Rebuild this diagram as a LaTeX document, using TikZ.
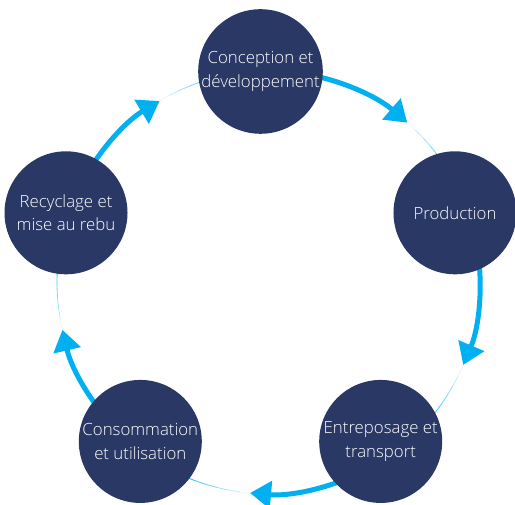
\documentclass[tikz,border=0pt]{standalone}
\usepackage{fontspec}
\setmainfont{Open Sans}[UprightFont=* Light]
\usetikzlibrary{arrows.meta}

\definecolor{navy}{RGB}{41,56,101}
\definecolor{sky}{RGB}{0,176,240}

\begin{document}
\begin{tikzpicture}[x=1pt,y=1pt]
   \tikzstyle{stage}=[circle, fill=navy, minimum size=123pt, inner sep=0pt, text=white, align=center, font=\fontsize{16.8}{23.5}\selectfont]
   \tikzstyle{flow}=[draw=sky, line width=5pt, -{Triangle[length=21pt,width=27pt]}]
   \useasboundingbox (0,0) rectangle (515,505);
   \coordinate (hub) at (260.5,229);
   \coordinate (ring) at (268.5,222.7);
   % faded thin ring from each arrow tip to the next stage
   \foreach \a in {49,-23,-95,-167,121} {
       \foreach \k/\o in {0/10,1/25,2/40,3/55,4/70,5/85} {
           \draw[sky!\o, line width=0.8pt] (ring) ++(\a-3*\k:211.5) arc[start angle=\a-3*\k, end angle=\a-3-3*\k, radius=211.5];
       }
       \draw[sky, line width=0.8pt] (ring) ++(\a-18:211.5) arc[start angle=\a-18, end angle=\a-30, radius=211.5];
   }
   % thick arrows
   \foreach \a in {49,-23,-95,-167,121} {
       \path[flow] (ring) ++(\a+32:211.5) arc[start angle=\a+32, end angle=\a, radius=211.5];
   }
   \path (hub) ++(90:204.5) node[stage] (concept) {Conception et\\développement};
   \path (hub) ++(18:204.5) node[stage] (production) {Production};
   \path (hub) ++(-54:204.5) node[stage] (transport) {Entreposage et\\transport};
   \path (hub) ++(-126:204.5) node[stage] (conso) {Consommation\\et utilisation};
   \path (hub) ++(162:204.5) node[stage] (recycl) {Recyclage et\\mise au rebu};
\end{tikzpicture}
\end{document}
